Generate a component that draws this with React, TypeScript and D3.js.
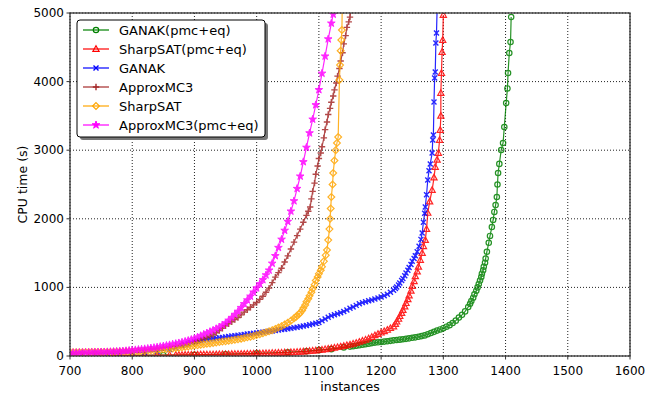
import React from 'react';
import * as d3 from 'd3';

type Pt = [number, number];

// instances solved vs CPU time (s)
const ganakPmc: Pt[] = [
  [690, 3], [700, 3], [750, 5], [800, 8], [850, 12], [900, 18], [950, 26], [1000, 38], [1050, 55],
  [1080, 70], [1100, 85], [1120, 100], [1140, 125], [1150, 137], [1155, 143], [1160, 150], [1165, 157],
  [1170, 165], [1175, 172], [1180, 180], [1185, 188], [1190, 195], [1195, 200], [1200, 205], [1205, 210],
  [1210, 215], [1215, 221], [1220, 228], [1225, 233], [1230, 238], [1235, 244], [1240, 250], [1245, 257],
  [1250, 265], [1255, 272], [1260, 280], [1265, 290], [1270, 300], [1275, 317], [1280, 335], [1285, 352],
  [1290, 370], [1295, 387], [1300, 405], [1305, 427], [1310, 450], [1315, 480], [1320, 515], [1325, 560],
  [1330, 600], [1335, 650], [1340, 714], [1343, 760], [1345, 800], [1348, 850], [1350, 900], [1353, 950],
  [1355, 1000], [1357, 1050], [1359, 1100], [1361, 1150], [1362, 1200], [1364, 1250], [1365, 1300],
  [1367, 1360], [1368, 1420], [1370, 1520], [1373, 1650], [1375, 1750], [1378, 1880], [1380, 1983],
  [1382, 2100], [1384, 2200], [1386, 2318], [1387, 2500], [1388, 2668], [1390, 2800], [1393, 3003],
  [1396, 3105], [1398, 3338], [1401, 3688], [1403, 3900], [1404, 4125], [1406, 4417], [1408, 4577],
  [1409, 4942],
];

const sharpsatPmc: Pt[] = [
  [690, 5], [700, 5], [720, 6], [740, 7], [760, 8], [780, 9], [800, 10], [820, 11], [840, 12], [860, 13],
  [870, 14], [875, 14], [880, 15], [885, 16], [890, 17], [895, 17], [900, 18], [905, 19], [910, 20],
  [915, 20], [920, 21], [925, 22], [930, 22], [935, 23], [940, 24], [945, 25], [950, 26], [955, 26],
  [960, 27], [965, 28], [970, 29], [975, 30], [980, 30], [985, 32], [990, 33], [995, 34], [1000, 35],
  [1005, 36], [1010, 37], [1015, 39], [1020, 40], [1025, 42], [1030, 43], [1035, 45], [1040, 47],
  [1045, 49], [1050, 51], [1055, 53], [1060, 55], [1065, 58], [1070, 61], [1075, 64], [1080, 67],
  [1085, 71], [1090, 76], [1095, 80], [1100, 85], [1105, 91], [1110, 98], [1115, 105], [1120, 112],
  [1125, 120], [1130, 128], [1135, 136], [1140, 145], [1145, 155], [1150, 165], [1155, 177], [1160, 190],
  [1165, 205], [1170, 220], [1175, 237], [1180, 255], [1185, 277], [1190, 300], [1195, 320], [1200, 340],
  [1205, 360], [1210, 380], [1215, 405], [1220, 430], [1223, 465], [1225, 500], [1228, 540], [1230, 580],
  [1233, 625], [1235, 670], [1238, 720], [1240, 770], [1243, 825], [1245, 880], [1248, 950], [1250, 1020],
  [1253, 1090], [1255, 1160], [1258, 1230], [1260, 1300], [1263, 1399], [1266, 1501], [1268, 1600],
  [1271, 1690], [1273, 1850], [1275, 2085], [1278, 2250], [1282, 2420], [1285, 2600], [1287, 2755],
  [1290, 2860], [1292, 2959], [1294, 3149], [1295, 3294], [1296, 3500], [1296, 3834], [1297, 4125],
  [1298, 4431], [1299, 4606], [1300, 4971],
];

const ganak: Pt[] = [
  [690, 30], [700, 31], [720, 33], [740, 35], [760, 38], [780, 42], [800, 48], [820, 56], [840, 70],
  [860, 95], [870, 120], [880, 150], [885, 165], [890, 180], [895, 193], [900, 205], [905, 215], [910, 225],
  [915, 233], [920, 240], [925, 247], [930, 253], [935, 259], [940, 265], [945, 271], [950, 277], [955, 284],
  [960, 290], [965, 296], [970, 302], [975, 308], [980, 314], [985, 320], [990, 325], [995, 331],
  [1000, 337], [1005, 342], [1010, 348], [1015, 354], [1020, 360], [1025, 366], [1030, 372], [1035, 378],
  [1040, 385], [1045, 391], [1050, 398], [1055, 405], [1060, 412], [1065, 420], [1070, 427], [1075, 436],
  [1080, 445], [1085, 455], [1090, 465], [1095, 477], [1100, 490], [1105, 515], [1110, 540], [1115, 565],
  [1120, 585], [1125, 600], [1130, 615], [1135, 632], [1140, 650], [1145, 672], [1150, 695], [1155, 715],
  [1160, 738], [1165, 760], [1170, 778], [1175, 792], [1180, 805], [1185, 818], [1190, 832], [1195, 846],
  [1200, 860], [1205, 878], [1210, 900], [1215, 928], [1220, 960], [1223, 985], [1225, 1005], [1228, 1035],
  [1230, 1064], [1233, 1100], [1235, 1130], [1238, 1170], [1240, 1210], [1243, 1250], [1245, 1290],
  [1248, 1335], [1250, 1380], [1253, 1420], [1255, 1460], [1258, 1520], [1261, 1600], [1264, 1700],
  [1266, 1793], [1268, 1950], [1270, 2080], [1271, 2172], [1273, 2350], [1275, 2566], [1277, 2700],
  [1279, 2800], [1282, 2959], [1283, 3149], [1284, 3222], [1285, 3703], [1286, 4052], [1287, 4140],
  [1288, 4563], [1289, 4708], [1291, 5400],
];

const approxmc: Pt[] = [
  [690, 40], [700, 42], [710, 44], [720, 46], [730, 48], [740, 50], [750, 53], [760, 56], [770, 60],
  [780, 64], [790, 69], [800, 75], [810, 82], [820, 90], [830, 99], [840, 109], [850, 120], [860, 134],
  [870, 150], [880, 167], [890, 185], [900, 205], [905, 220], [910, 235], [915, 252], [920, 270],
  [925, 290], [930, 310], [935, 340], [940, 370], [945, 405], [950, 440], [955, 470], [960, 500],
  [965, 530], [970, 560], [975, 600], [980, 640], [985, 675], [990, 710], [995, 745], [1000, 780],
  [1005, 825], [1010, 870], [1015, 930], [1020, 990], [1025, 1070], [1030, 1150], [1035, 1215],
  [1040, 1280], [1045, 1370], [1050, 1460], [1055, 1560], [1060, 1660], [1065, 1755], [1070, 1850],
  [1075, 1950], [1080, 2050], [1083, 2110], [1086, 2172], [1088, 2290], [1090, 2400], [1093, 2520],
  [1095, 2650], [1098, 2770], [1100, 2880], [1103, 2960], [1105, 3050], [1108, 3180], [1110, 3300],
  [1113, 3410], [1115, 3520], [1118, 3610], [1120, 3700], [1123, 3790], [1125, 3880], [1128, 3980],
  [1130, 4080], [1133, 4190], [1135, 4300], [1138, 4420], [1140, 4550], [1143, 4670], [1145, 4790],
  [1148, 4870], [1150, 4940], [1153, 5150],
];

const sharpsat: Pt[] = [
  [690, 55], [695, 55], [700, 55], [705, 55], [710, 55], [715, 55], [720, 56], [725, 56], [730, 56],
  [735, 57], [740, 57], [745, 58], [750, 58], [755, 58], [760, 59], [765, 59], [770, 60], [775, 61],
  [780, 62], [785, 63], [790, 64], [795, 65], [800, 67], [805, 69], [810, 71], [815, 73], [820, 76],
  [825, 79], [830, 82], [835, 85], [840, 89], [845, 93], [850, 97], [855, 101], [860, 106], [865, 111],
  [870, 116], [875, 121], [880, 127], [885, 133], [890, 139], [895, 145], [900, 152], [905, 158],
  [910, 165], [915, 171], [920, 178], [925, 184], [930, 190], [935, 197], [940, 203], [945, 210],
  [950, 216], [955, 223], [960, 230], [965, 237], [970, 245], [975, 253], [980, 262], [985, 272],
  [990, 282], [995, 293], [1000, 305], [1005, 317], [1010, 330], [1015, 345], [1020, 360], [1025, 377],
  [1030, 395], [1035, 415], [1040, 435], [1045, 460], [1050, 485], [1055, 515], [1060, 550], [1063, 570],
  [1065, 590], [1068, 610], [1070, 630], [1073, 665], [1075, 700], [1078, 745], [1080, 790], [1083, 835],
  [1085, 880], [1088, 930], [1090, 980], [1093, 1040], [1095, 1100], [1098, 1150], [1100, 1200],
  [1103, 1250], [1105, 1300], [1108, 1380], [1111, 1470], [1113, 1545], [1115, 1690], [1117, 1850],
  [1118, 2000], [1119, 2150], [1120, 2318], [1122, 2500], [1123, 2668], [1125, 2850], [1127, 3000],
  [1129, 3105], [1131, 3192], [1133, 4023], [1134, 4241], [1135, 4450], [1136, 4606], [1137, 4752],
  [1138, 5400],
];

const approxmcPmc: Pt[] = [
  [690, 44], [695, 45], [700, 46], [705, 47], [710, 48], [715, 49], [720, 50], [725, 51], [730, 52],
  [735, 53], [740, 54], [745, 55], [750, 57], [755, 58], [760, 60], [765, 62], [770, 64], [775, 66],
  [780, 69], [785, 72], [790, 76], [795, 80], [800, 85], [805, 89], [810, 94], [815, 99], [820, 104],
  [825, 109], [830, 115], [835, 121], [840, 128], [845, 136], [850, 145], [855, 153], [860, 162],
  [865, 171], [870, 180], [875, 190], [880, 200], [885, 212], [890, 225], [895, 240], [900, 255],
  [905, 275], [910, 295], [915, 315], [920, 335], [925, 355], [930, 375], [935, 397], [940, 420],
  [945, 450], [950, 480], [955, 520], [960, 560], [965, 605], [970, 650], [975, 705], [980, 760],
  [985, 815], [990, 870], [995, 930], [1000, 990], [1005, 1050], [1010, 1110], [1015, 1180], [1020, 1250],
  [1025, 1350], [1030, 1460], [1035, 1580], [1040, 1700], [1045, 1830], [1050, 1960], [1055, 2110],
  [1060, 2260], [1065, 2440], [1070, 2620], [1075, 2830], [1080, 3040], [1085, 3250], [1090, 3450],
  [1095, 3660], [1100, 3880], [1105, 4120], [1110, 4370], [1115, 4620], [1120, 4850], [1123, 4980],
];

const xTicks = [700, 800, 900, 1000, 1100, 1200, 1300, 1400, 1500, 1600];
const yTicks = [0, 1000, 2000, 3000, 4000, 5000];

const series = [
  { name: 'GANAK(pmc+eq)', data: ganakPmc, color: '#008000', marker: 'circle' },
  { name: 'SharpSAT(pmc+eq)', data: sharpsatPmc, color: '#ff0000', marker: 'triangle' },
  { name: 'GANAK', data: ganak, color: '#0000ff', marker: 'x' },
  { name: 'ApproxMC3', data: approxmc, color: '#a52a2a', marker: 'plus' },
  { name: 'SharpSAT', data: sharpsat, color: '#ffa500', marker: 'diamond' },
  { name: 'ApproxMC3(pmc+eq)', data: approxmcPmc, color: '#ff00ff', marker: 'star' },
];

const W = 657, H = 397;
const left = 70, right = 630, top = 13, bottom = 356;
const font = 'DejaVu Sans, sans-serif';

const x = d3.scaleLinear().domain([700, 1600]).range([left, right]);
const y = d3.scaleLinear().domain([0, 5000]).range([bottom, top]);

const starPath = d3.symbol().type(d3.symbolStar).size(18)() as string;

function Marker({ kind, color, cx, cy }: { kind: string; color: string; cx: number; cy: number }) {
  const t = `translate(${cx},${cy})`;
  const sw = 1.2;
  if (kind === 'circle') return <circle cx={cx} cy={cy} r={2.7} fill="none" stroke={color} strokeWidth={sw} />;
  if (kind === 'triangle') return <path transform={t} d="M0,-3.3L3.1,2.3L-3.1,2.3Z" fill="none" stroke={color} strokeWidth={sw} />;
  if (kind === 'x') return <path transform={t} d="M-2.5,-2.5L2.5,2.5M-2.5,2.5L2.5,-2.5" stroke={color} strokeWidth={1.4} />;
  if (kind === 'plus') return <path transform={t} d="M-3.2,0L3.2,0M0,-3.2L0,3.2" stroke={color} strokeWidth={1.4} />;
  if (kind === 'diamond') return <path transform={t} d="M0,-3.4L3.4,0L0,3.4L-3.4,0Z" fill="none" stroke={color} strokeWidth={sw} />;
  return <path transform={t} d={starPath} fill={color} stroke={color} strokeWidth={1} />;
}

export default function App() {
  const line = d3.line<Pt>().x(d => x(d[0])).y(d => y(d[1]));
  return (
    <svg width={W} height={H} style={{ position: 'absolute', left: 0, top: 0, background: '#fff' }} fontFamily={font}>
      <defs>
        <clipPath id="plot">
          <rect x={left} y={top} width={right - left} height={bottom - top} />
        </clipPath>
      </defs>
      {/* grid */}
      {xTicks.map(t => (
        <line key={'gx' + t} x1={x(t)} x2={x(t)} y1={top} y2={bottom} stroke="#222" strokeWidth={1} strokeDasharray="1,2" />
      ))}
      {yTicks.map(t => (
        <line key={'gy' + t} x1={left} x2={right} y1={y(t)} y2={y(t)} stroke="#222" strokeWidth={1} strokeDasharray="1,2" />
      ))}
      <g clipPath="url(#plot)">
        {series.map(s => (
          <g key={s.name} opacity={0.85}>
            <path d={line(s.data) as string} fill="none" stroke={s.color} strokeWidth={1.2} />
            {s.data.map((d, i) => (
              <Marker key={i} kind={s.marker} color={s.color} cx={x(d[0])} cy={y(d[1])} />
            ))}
          </g>
        ))}
      </g>
      {/* frame */}
      <rect x={left} y={top} width={right - left} height={bottom - top} fill="none" stroke="#333" strokeWidth={1.3} />
      {xTicks.map(t => (
        <g key={'tx' + t}>
          <line x1={x(t)} x2={x(t)} y1={bottom} y2={bottom + 3.5} stroke="#333" />
          <text x={x(t)} y={375} fontSize={12} textAnchor="middle" fill="#000">{t}</text>
        </g>
      ))}
      {yTicks.map(t => (
        <g key={'ty' + t}>
          <line x1={left - 3.5} x2={left} y1={y(t)} y2={y(t)} stroke="#333" />
          <text x={64} y={y(t)} fontSize={12} textAnchor="end" dominantBaseline="central" fill="#000">{t}</text>
        </g>
      ))}
      <text x={(left + right) / 2} y={391} fontSize={12.5} textAnchor="middle">instances</text>
      <text transform={`translate(22,${(top + bottom) / 2}) rotate(-90)`} fontSize={12.5} textAnchor="middle" dominantBaseline="central">CPU time (s)</text>
      {/* legend */}
      <rect x={80} y={23} width={188} height={117} rx={3} fill="#777" />
      <rect x={77} y={20} width={188} height={117} rx={3} fill="#fff" stroke="#000" strokeWidth={1} />
      {series.map((s, i) => {
        const ly = 30 + i * 19;
        return (
          <g key={'lg' + s.name}>
            <line x1={83} x2={109} y1={ly} y2={ly} stroke={s.color} strokeWidth={1.2} />
            <Marker kind={s.marker} color={s.color} cx={96} cy={ly} />
            <text x={119} y={ly} fontSize={13} dominantBaseline="central">{s.name}</text>
          </g>
        );
      })}
    </svg>
  );
}
